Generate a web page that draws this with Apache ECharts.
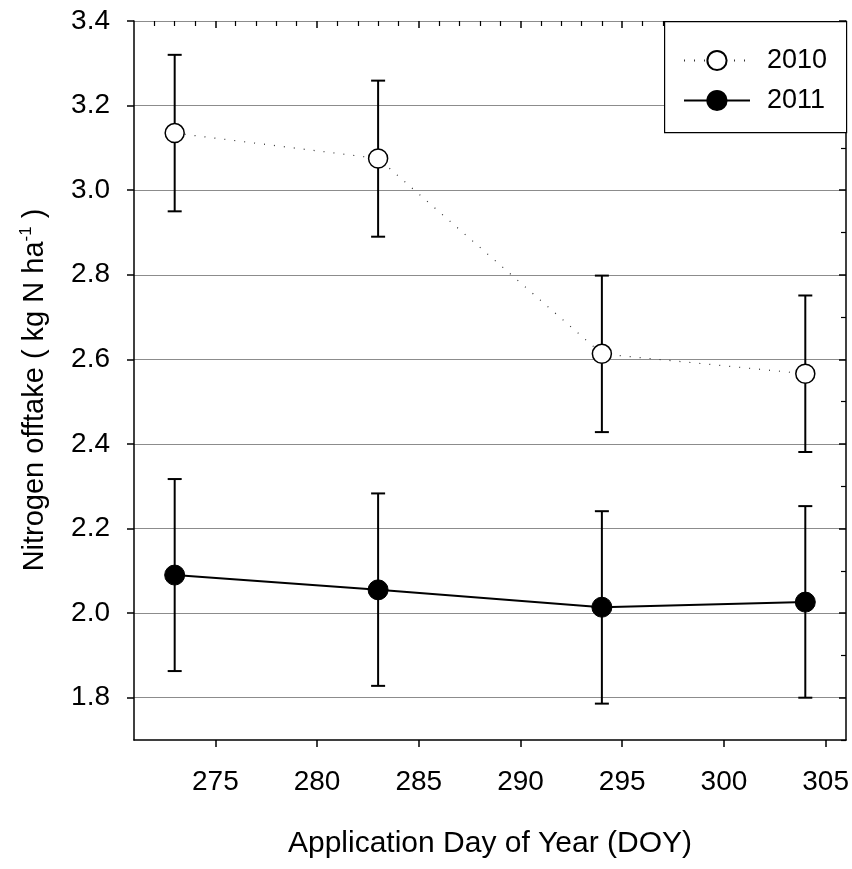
<!DOCTYPE html>
<html>
<head>
<meta charset="utf-8">
<script src="https://cdn.jsdelivr.net/npm/echarts@6/dist/echarts.min.js"></script>
<style>
  html, body { margin: 0; padding: 0; background: #fff; }
  #chart { width: 852px; height: 869px; }
</style>
</head>
<body>
<div id="chart"></div>
<script>
// Application dates (day of year)
const doy = [273, 283, 294, 304];

// 2010 season: mean nitrogen offtake and error bar limits
const mean2010 = [3.135, 3.075, 2.613, 2.566];
const low2010  = [2.950, 2.890, 2.428, 2.381];
const high2010 = [3.320, 3.259, 2.798, 2.751];

// 2011 season
const mean2011 = [2.090, 2.055, 2.014, 2.026];
const low2011  = [1.863, 1.828, 1.786, 1.800];
const high2011 = [2.317, 2.283, 2.241, 2.253];

// Axis tick labels
const xTicks = [275, 280, 285, 290, 295, 300, 305];
const yTicks = [1.8, 2.0, 2.2, 2.4, 2.6, 2.8, 3.0, 3.2, 3.4];

const X_MIN = 271, X_MAX = 306;
const Y_MIN = 1.7, Y_MAX = 3.4;

// minor ticks: every day between labelled days, every 0.1 between labelled values
const xMinor = [];
for (let d = 272; d <= 304; d++) if (d % 5 !== 0) xMinor.push(d);
const yMinor = [];
for (let k = 17; k <= 33; k += 2) yMinor.push(k / 10);

const font = '"Liberation Sans", Arial, sans-serif';

function pairs(xs, ys) { return xs.map((x, i) => [x, ys[i]]); }
function bars(xs, lo, hi) { return xs.map((x, i) => [x, lo[i], hi[i]]); }

function errorBar(params, api) {
  const x = api.value(0);
  const top = api.coord([x, api.value(2)]);
  const bot = api.coord([x, api.value(1)]);
  const cap = 7;
  const style = { stroke: '#000', lineWidth: 2, fill: null };
  return {
    type: 'group',
    children: [
      { type: 'line', shape: { x1: top[0], y1: top[1], x2: bot[0], y2: bot[1] }, style },
      { type: 'line', shape: { x1: top[0] - cap, y1: top[1], x2: top[0] + cap, y2: top[1] }, style },
      { type: 'line', shape: { x1: bot[0] - cap, y1: bot[1], x2: bot[0] + cap, y2: bot[1] }, style }
    ]
  };
}

const chart = echarts.init(document.getElementById('chart'), null, { renderer: 'canvas' });

const hiddenAxisParts = { axisLabel: { show: false }, splitLine: { show: false } };

chart.setOption({
  animation: false,
  backgroundColor: '#fff',
  grid: { left: 134, top: 21, width: 712, height: 719 },
  xAxis: [
    {
      type: 'value', min: X_MIN, max: X_MAX,
      axisLine: { show: true, lineStyle: { color: '#000', width: 1.5 } },
      axisTick: { show: true, inside: false, length: 7, customValues: xTicks, lineStyle: { color: '#000', width: 1.5 } },
      axisLabel: { show: true, customValues: xTicks, margin: 28, color: '#000', fontSize: 28, fontFamily: font },
      splitLine: { show: false },
      name: 'Application Day of Year (DOY)',
      nameLocation: 'middle', nameGap: 89,
      nameTextStyle: { color: '#000', fontSize: 30, fontFamily: font }
    },
    {
      type: 'value', min: X_MIN, max: X_MAX,
      axisLine: { show: false },
      axisTick: { show: true, inside: true, length: 7, customValues: xTicks, lineStyle: { color: '#000', width: 1.5 } },
      ...hiddenAxisParts
    },
    {
      type: 'value', min: X_MIN, max: X_MAX,
      axisLine: { show: false },
      axisTick: { show: true, inside: true, length: 5, customValues: xMinor, lineStyle: { color: '#000', width: 1.2 } },
      ...hiddenAxisParts
    }
  ],
  yAxis: [
    {
      type: 'value', min: Y_MIN, max: Y_MAX,
      axisLine: { show: true, lineStyle: { color: '#000', width: 1.5 } },
      axisTick: { show: true, inside: false, length: 7, customValues: yTicks, lineStyle: { color: '#000', width: 1.5 } },
      axisLabel: {
        show: true, customValues: yTicks, margin: 24, color: '#000', fontSize: 28, fontFamily: font,
        formatter: v => v.toFixed(1)
      },
      splitLine: { show: true, lineStyle: { color: '#8c8c8c', width: 1.2 } },
      name: '{m|Nitrogen offtake ( kg N ha}{s|-1}{m| )}',
      nameLocation: 'middle', nameGap: 82,
      nameTextStyle: {
        color: '#000',
        padding: [0, 19, 0, 0],
        rich: {
          m: { fontSize: 29, fontFamily: font, lineHeight: 34, color: '#000' },
          s: { fontSize: 17, fontFamily: font, lineHeight: 18, verticalAlign: 'top', color: '#000' }
        }
      }
    },
    {
      type: 'value', min: Y_MIN, max: Y_MAX,
      axisLine: { show: false },
      axisTick: { show: true, inside: true, length: 7, customValues: yTicks, lineStyle: { color: '#000', width: 1.5 } },
      ...hiddenAxisParts
    },
    {
      type: 'value', min: Y_MIN, max: Y_MAX,
      axisLine: { show: false },
      axisTick: { show: true, inside: true, length: 5, customValues: yMinor, lineStyle: { color: '#000', width: 1.2 } },
      ...hiddenAxisParts
    },
    {
      // right frame edge
      type: 'value', min: Y_MIN, max: Y_MAX, position: 'right',
      axisLine: { show: true, lineStyle: { color: '#000', width: 1.5 } },
      axisTick: { show: false },
      ...hiddenAxisParts
    }
  ],
  graphic: [
    {
      type: 'rect', left: 664, top: 21, z: 3,
      shape: { width: 182, height: 111 },
      style: { fill: '#fff', stroke: '#000', lineWidth: 1.2 }
    }
  ],
  legend: {
    left: 683, top: 47, orient: 'vertical',
    itemWidth: 66, itemHeight: 24, itemGap: 13,
    padding: 0, z: 5,
    textStyle: { color: '#000', fontSize: 27, fontFamily: font, padding: [0, 0, 0, 12] },
    data: ['2010', '2011']
  },
  series: [
    {
      name: 'bars2010', type: 'custom', renderItem: errorBar, z: 1,
      encode: { x: 0, y: [1, 2] }, data: bars(doy, low2010, high2010)
    },
    {
      name: 'bars2011', type: 'custom', renderItem: errorBar, z: 1,
      encode: { x: 0, y: [1, 2] }, data: bars(doy, low2011, high2011)
    },
    {
      name: '2010', type: 'line', z: 3,
      data: pairs(doy, mean2010),
      symbol: 'circle', symbolSize: 19,
      lineStyle: { color: '#333', width: 1.2, type: [1, 9] },
      itemStyle: { color: '#fff', borderColor: '#000', borderWidth: 1.5 }
    },
    {
      name: '2011', type: 'line', z: 3,
      data: pairs(doy, mean2011),
      symbol: 'circle', symbolSize: 20,
      lineStyle: { color: '#000', width: 2, type: 'solid' },
      itemStyle: { color: '#000', borderColor: '#000', borderWidth: 1 }
    }
  ]
});
</script>
</body>
</html>
